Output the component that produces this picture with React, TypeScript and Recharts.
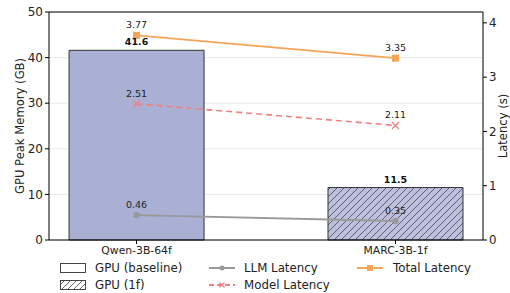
import React from 'react';
import {
  ComposedChart, Bar, Line, XAxis, YAxis, CartesianGrid, LabelList, Cell, ReferenceLine, Label,
} from 'recharts';

const categories = ['Qwen-3B-64f', 'MARC-3B-1f'];
const gpuMemory = [41.6, 11.5];
const llmLatency = [0.46, 0.35];
const modelLatency = [2.51, 2.11];
const totalLatency = [3.77, 3.35];
const leftTicks = [0, 10, 20, 30, 40, 50];
const rightTicks = [0, 1, 2, 3, 4];

const data = categories.map((name, i) => ({
  x: i,
  name,
  gpu: gpuMemory[i],
  llm: llmLatency[i],
  model: modelLatency[i],
  total: totalLatency[i],
}));

const FONT = '"DejaVu Sans", sans-serif';
const BAR_FILL = '#aab0d4';
const HATCH_FILL = '#bcc0de';
const ORANGE = '#f4a55a';
const CORAL = '#f08080';
const GREY = '#999999';

const SquareDot = (p: any) => (
  <rect key={p.key ?? `sq-${p.index}`} x={p.cx - 3.5} y={p.cy - 3.5} width={7} height={7} fill={ORANGE} />
);
const CrossDot = (p: any) => (
  <path key={p.key ?? `cx-${p.index}`} d={`M${p.cx - 3.5},${p.cy - 3.5}L${p.cx + 3.5},${p.cy + 3.5}M${p.cx - 3.5},${p.cy + 3.5}L${p.cx + 3.5},${p.cy - 3.5}`} stroke={CORAL} strokeWidth={1.3} fill="none" />
);
const CircleDot = (p: any) => (
  <circle key={p.key ?? `ci-${p.index}`} cx={p.cx} cy={p.cy} r={3.2} fill={GREY} />
);

const LegendBox = () => (
  <svg width={510} height={50} style={{ position: 'absolute', left: 0, top: 255, fontFamily: FONT }}>
    <defs>
      <pattern id="hatchL" patternUnits="userSpaceOnUse" width={6} height={6}>
        <path d="M-1,1 l2,-2 M0,6 l6,-6 M5,7 l2,-2" stroke="#444" strokeWidth={0.8} />
      </pattern>
    </defs>
    <rect x={60.5} y={8.5} width={25} height={9} fill="#fff" stroke="#333" strokeWidth={0.9} />
    <text x={95} y={17} fontSize={11.8} fill="#222">GPU (baseline)</text>
    <rect x={60.5} y={25.5} width={25} height={9} fill="url(#hatchL)" stroke="#333" strokeWidth={0.9} />
    <text x={95} y={34} fontSize={11.8} fill="#222">GPU (1f)</text>

    <line x1={209} x2={235} y1={13} y2={13} stroke={GREY} strokeWidth={2} />
    <circle cx={222} cy={13} r={2.5} fill={GREY} />
    <text x={244} y={17} fontSize={11.8} fill="#222">LLM Latency</text>
    <line x1={209} x2={235} y1={30} y2={30} stroke={CORAL} strokeWidth={2} strokeDasharray="5 3" />
    <path d="M219.5,27.5L224.5,32.5M219.5,32.5L224.5,27.5" stroke={CORAL} strokeWidth={1.2} />
    <text x={244} y={34} fontSize={11.8} fill="#222">Model Latency</text>

    <line x1={357} x2={383} y1={13} y2={13} stroke={ORANGE} strokeWidth={2} />
    <rect x={367} y={10} width={6} height={6} fill={ORANGE} />
    <text x={393} y={17} fontSize={11.8} fill="#222">Total Latency</text>
  </svg>
);

const LeftLabel = (props: any) => {
  const vb = props.viewBox;
  const cx = vb.x + 20;
  const cy = vb.y + vb.height / 2;
  return (
    <text x={cx} y={cy} transform={`rotate(-90 ${cx} ${cy})`} textAnchor="middle" dominantBaseline="central" fontSize={11.6} fill="#222" fontFamily={FONT}>
      GPU Peak Memory (GB)
    </text>
  );
};
const RightLabel = (props: any) => {
  const vb = props.viewBox;
  const cx = vb.x + 20;
  const cy = vb.y + vb.height / 2;
  return (
    <text x={cx} y={cy} transform={`rotate(-90 ${cx} ${cy})`} textAnchor="middle" dominantBaseline="central" fontSize={11.6} fill="#222" fontFamily={FONT}>
      Latency (s)
    </text>
  );
};

export default function App() {
  return (
    <div style={{ position: 'absolute', left: 0, top: 0, width: 510, height: 293, background: '#fff', fontFamily: FONT }}>
      <ComposedChart width={510} height={293} data={data} margin={{ top: 12, right: 0, bottom: 0, left: 0 }}>
        <defs>
          <pattern id="hatch" patternUnits="userSpaceOnUse" width={7} height={7}>
            <rect width={7} height={7} fill={HATCH_FILL} />
            <path d="M-1,1 l2,-2 M0,7 l7,-7 M6,8 l2,-2" stroke="#333" strokeWidth={0.7} />
          </pattern>
        </defs>
        <CartesianGrid yAxisId="left" vertical={false} stroke="#e8e8e8" strokeWidth={1} />
        <XAxis
          dataKey="x"
          type="number"
          domain={[-0.338, 1.338]}
          ticks={[0, 1]}
          tickFormatter={(v: number) => categories[v]}
          height={53}
          tickSize={4}
          axisLine={{ stroke: '#000', strokeWidth: 1 }}
          tickLine={{ stroke: '#000' }}
          tick={{ fontSize: 10.8, fill: '#222', fontFamily: FONT }}
        />
        <YAxis
          yAxisId="left"
          orientation="left"
          width={49}
          domain={[0, 50]}
          ticks={leftTicks}
          tickSize={4}
          axisLine={{ stroke: '#000', strokeWidth: 1 }}
          tickLine={{ stroke: '#000' }}
          tick={{ fontSize: 12, fill: '#222', fontFamily: FONT }}
        >
          <Label content={<LeftLabel />} />
        </YAxis>
        <YAxis
          yAxisId="right"
          orientation="right"
          width={27}
          domain={[0, 4.2]}
          ticks={rightTicks}
          tickSize={4}
          axisLine={{ stroke: '#000', strokeWidth: 1 }}
          tickLine={{ stroke: '#000' }}
          tick={{ fontSize: 11.8, fill: '#222', fontFamily: FONT }}
        >
          <Label content={<RightLabel />} />
        </YAxis>
        <ReferenceLine yAxisId="left" y={50} stroke="#000" strokeWidth={1} />
        <Bar yAxisId="left" dataKey="gpu" barSize={135} stroke="#333" strokeWidth={1} isAnimationActive={false}>
          {data.map((d, i) => (
            <Cell key={d.name} fill={i === 0 ? BAR_FILL : 'url(#hatch)'} />
          ))}
          <LabelList dataKey="gpu" position="top" offset={5} style={{ fontSize: 9.5, fontWeight: 'bold', fill: '#111', fontFamily: FONT }} formatter={(v: number) => v.toFixed(1)} />
        </Bar>
        <Line yAxisId="right" dataKey="llm" stroke={GREY} strokeWidth={1.8} dot={CircleDot} isAnimationActive={false}>
          <LabelList dataKey="llm" position="top" offset={7} style={{ fontSize: 9.5, fill: '#222', fontFamily: FONT }} formatter={(v: number) => v.toFixed(2)} />
        </Line>
        <Line yAxisId="right" dataKey="model" stroke={CORAL} strokeWidth={1.6} strokeDasharray="6 4" dot={CrossDot} isAnimationActive={false}>
          <LabelList dataKey="model" position="top" offset={7} style={{ fontSize: 9.5, fill: '#222', fontFamily: FONT }} formatter={(v: number) => v.toFixed(2)} />
        </Line>
        <Line yAxisId="right" dataKey="total" stroke={ORANGE} strokeWidth={1.8} dot={SquareDot} isAnimationActive={false}>
          <LabelList dataKey="total" position="top" offset={7} style={{ fontSize: 9.5, fill: '#222', fontFamily: FONT }} formatter={(v: number) => v.toFixed(2)} />
        </Line>
      </ComposedChart>
      <LegendBox />
    </div>
  );
}
